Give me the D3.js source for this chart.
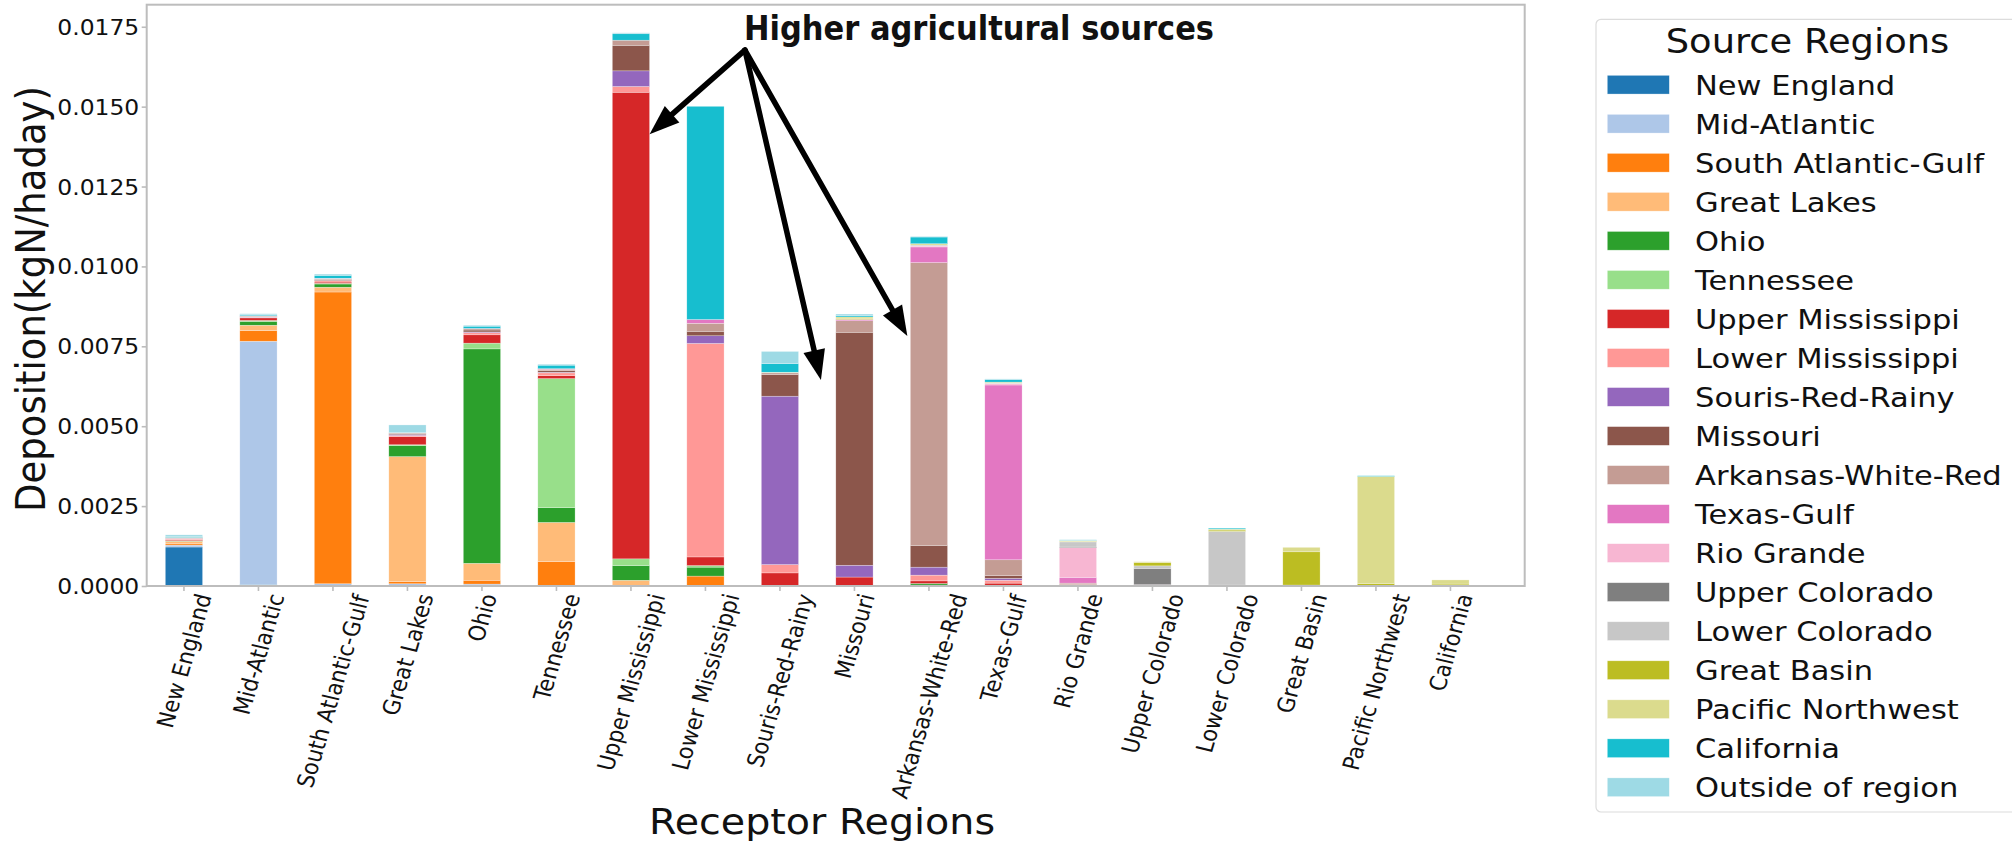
<!DOCTYPE html>
<html>
<head>
<meta charset="utf-8">
<script src="https://cdn.jsdelivr.net/npm/d3@7"></script>
<style>
  html, body { margin: 0; padding: 0; background: #fff; }
  svg { display: block; }
  text { font-family: "DejaVu Sans", sans-serif; fill: #111; }
</style>
</head>
<body>
<svg id="chart" width="2012" height="846"></svg>
<script>
// Receptor regions (x axis categories)
const receptors = [
  "New England", "Mid-Atlantic", "South Atlantic-Gulf", "Great Lakes", "Ohio",
  "Tennessee", "Upper Mississippi", "Lower Mississippi", "Souris-Red-Rainy",
  "Missouri", "Arkansas-White-Red", "Texas-Gulf", "Rio Grande", "Upper Colorado",
  "Lower Colorado", "Great Basin", "Pacific Northwest", "California"
];

// Source regions (stack order, bottom to top)
const sources = [
  "New England", "Mid-Atlantic", "South Atlantic-Gulf", "Great Lakes", "Ohio",
  "Tennessee", "Upper Mississippi", "Lower Mississippi", "Souris-Red-Rainy",
  "Missouri", "Arkansas-White-Red", "Texas-Gulf", "Rio Grande", "Upper Colorado",
  "Lower Colorado", "Great Basin", "Pacific Northwest", "California", "Outside of region"
];

const sourceColors = [
  "#1f77b4", "#aec7e8", "#ff7f0e", "#ffbb78", "#2ca02c", "#98df8a", "#d62728",
  "#ff9896", "#9467bd", "#8c564b", "#c49c94", "#e377c2", "#f7b6d2", "#7f7f7f",
  "#c7c7c7", "#bcbd22", "#dbdb8d", "#17becf", "#9edae5"
];

// Deposition (kgN/ha/day) contributed by each source region, one value per receptor
const srcNewEngland     = [0.00122,0.00005,0,0,0,0,0,0,0,0,0,0,0,0,0,0,0,0];
const srcMidAtlantic    = [0.00006,0.00761,0.00007,0.00007,0.00006,0,0,0,0,0,0,0,0,0,0,0,0,0];
const srcSouthAtlantic  = [0.00004,0.00033,0.00913,0.00007,0.00012,0.00076,0,0.00031,0,0,0.00003,0.00002,0,0,0,0,0,0];
const srcGreatLakes     = [0.00008,0.00017,0.00015,0.00391,0.00053,0.00123,0.00018,0,0,0,0,0,0,0,0,0,0,0];
const srcOhio           = [0.00001,0.00012,0.00010,0.00034,0.00671,0.00046,0.00046,0.00028,0,0.00002,0.00005,0,0,0,0,0,0,0];
const srcTennessee      = [0.00001,0.00003,0.00002,0.00003,0.00018,0.00404,0.00021,0.00005,0,0,0,0,0,0,0,0,0,0];
const srcUpperMiss      = [0.00003,0.00008,0.00004,0.00025,0.00026,0.00009,0.01460,0.00027,0.00041,0.00026,0.00008,0.00007,0,0,0,0,0,0];
const srcLowerMiss      = [0.00002,0.00002,0.00004,0.00004,0.00007,0.00009,0.00018,0.00668,0.00026,0,0.00018,0.00009,0,0,0,0,0,0];
const srcSourisRedRainy = [0.00001,0.00001,0.00001,0.00003,0.00002,0.00002,0.00049,0.00024,0.00527,0.00037,0.00025,0.00006,0,0,0,0,0,0];
const srcMissouri       = [0.00001,0.00002,0.00003,0.00003,0.00006,0.00005,0.00080,0.00014,0.00068,0.00729,0.00068,0.00009,0.00004,0,0,0,0.00002,0];
const srcArkansas       = [0.00001,0.00001,0.00002,0.00002,0.00004,0.00004,0.00016,0.00025,0.00005,0.00036,0.00885,0.00049,0.00005,0,0,0,0,0];
const srcTexasGulf      = [0.00001,0.00001,0.00001,0,0.00001,0.00002,0,0.00012,0,0.00004,0.00049,0.00547,0.00018,0.00002,0,0,0,0];
const srcRioGrande      = [0,0,0.00001,0,0,0,0,0,0,0,0.00003,0.00004,0.00093,0.00002,0.00003,0,0,0];
const srcUpperColorado  = [0,0,0,0,0,0,0,0,0,0,0,0,0.00002,0.00051,0,0.00003,0,0];
const srcLowerColorado  = [0,0,0,0,0,0,0,0,0,0,0.00003,0.00002,0.00016,0.00008,0.00168,0,0,0];
const srcGreatBasin     = [0,0,0,0,0,0,0,0,0,0.00002,0,0,0.00001,0.00010,0.00004,0.00104,0.00006,0.00006];
const srcPacificNW      = [0.00001,0,0,0,0,0,0,0,0.00002,0.00006,0.00004,0.00003,0.00003,0.00003,0.00003,0.00014,0.00335,0.00013];
const srcCalifornia     = [0.00002,0.00003,0.00009,0.00001,0.00007,0.00011,0.00020,0.00667,0.00027,0.00004,0.00021,0.00008,0.00001,0,0.00003,0,0.00002,0];
const srcOutside        = [0.00006,0.00003,0.00004,0.00024,0.00003,0.00003,0.00003,0,0.00038,0.00005,0.00002,0.00002,0.00002,0,0,0,0,0];

const sourceValues = [
  srcNewEngland, srcMidAtlantic, srcSouthAtlantic, srcGreatLakes, srcOhio,
  srcTennessee, srcUpperMiss, srcLowerMiss, srcSourisRedRainy, srcMissouri,
  srcArkansas, srcTexasGulf, srcRioGrande, srcUpperColorado, srcLowerColorado,
  srcGreatBasin, srcPacificNW, srcCalifornia, srcOutside
];

const yTicks = [0, 0.0025, 0.005, 0.0075, 0.01, 0.0125, 0.015, 0.0175];
const yMax = 0.01819;

// Callout pointing at the receptors with large agricultural contributions
const calloutText = "Higher agricultural sources";
const calloutOrigin = { i: 7.53, v: 0.01677 };
const calloutTargets = [
  { i: 6.25, v: 0.01414 },
  { i: 8.55, v: 0.00645 },
  { i: 9.71, v: 0.00782 }
];

// ---------------------------------------------------------------------------
const svg = d3.select("#chart");
const SX = 1.115;                       // horizontal text stretch used throughout
const plot = { left: 146.7, right: 1524.7, top: 4.7, bottom: 586 };
const step = 74.5;

const x = d3.scaleBand()
  .domain(receptors)
  .range([plot.left, plot.left + receptors.length * step])
  .paddingInner(0.5)
  .paddingOuter(0.25);

const y = d3.scaleLinear().domain([0, yMax]).range([plot.bottom, plot.top]);

// position along the category axis for fractional indices
const xIdx = i => x(receptors[0]) + x.bandwidth() / 2 + i * x.step();

const rows = receptors.map((r, i) => {
  const o = { receptor: r };
  sources.forEach((s, k) => { o[s] = sourceValues[k][i]; });
  return o;
});

const stacked = d3.stack().keys(sources)(rows);
const color = d3.scaleOrdinal().domain(sources).range(sourceColors);

svg.append("rect").attr("width", 2012).attr("height", 846).attr("fill", "#fff");

// stacked bars
svg.append("g").selectAll("g")
  .data(stacked)
  .join("g")
  .attr("fill", d => color(d.key))
  .selectAll("rect")
  .data(d => d)
  .join("rect")
  .attr("x", d => x(d.data.receptor))
  .attr("width", x.bandwidth())
  .attr("y", d => y(d[1]))
  .attr("height", d => Math.max(0, y(d[0]) - y(d[1])))
  .attr("stroke", "#ffffff")
  .attr("stroke-opacity", 0.55)
  .attr("stroke-width", 0.5);

// y axis
const yAxis = svg.append("g")
  .attr("transform", `translate(${plot.left},0)`)
  .call(d3.axisLeft(y).tickValues(yTicks).tickFormat(d3.format(".4f")).tickSize(5).tickPadding(2));
yAxis.select(".domain").remove();
yAxis.selectAll(".tick line").attr("stroke", "#bdbdbd").attr("stroke-width", 1.6);
yAxis.selectAll(".tick text")
  .attr("font-size", 21)
  .attr("font-family", "DejaVu Sans")
  .attr("fill", "#111")
  .attr("x", -7.5 / SX)
  .attr("dy", "0.36em")
  .attr("transform", `scale(${SX},1)`);

// x axis
const xAxis = svg.append("g")
  .attr("transform", `translate(0,${plot.bottom})`)
  .call(d3.axisBottom(x).tickSize(5).tickFormat(""));
xAxis.select(".domain").remove();
xAxis.selectAll(".tick line").attr("stroke", "#bdbdbd").attr("stroke-width", 1.6);

const xLabels = svg.append("g").selectAll("text")
  .data(receptors)
  .join("text")
  .attr("font-size", 21)
  .attr("text-anchor", "end")
  .text(d => d);

xLabels.each(function (d) {
  const cx = x(d) + x.bandwidth() / 2;
  const t = d3.select(this);
  const base = (tx, ty) => `translate(${tx},${ty}) scale(${SX},1) rotate(-75)`;
  t.attr("transform", base(cx, plot.bottom + 10));
  const b = this.getBoundingClientRect();
  const dx = cx - (b.left + b.right) / 2;
  const dy = (plot.bottom + 5) - b.top;
  t.attr("transform", base(cx + dx, plot.bottom + 10 + dy));
});

// frame
svg.append("rect")
  .attr("x", plot.left).attr("y", plot.top)
  .attr("width", plot.right - plot.left).attr("height", plot.bottom - plot.top)
  .attr("fill", "none").attr("stroke", "#bdbdbd").attr("stroke-width", 2);

// axis titles
svg.append("text")
  .attr("transform", `translate(45,299) scale(${SX},1) rotate(-90)`)
  .attr("text-anchor", "middle")
  .attr("font-size", 37)
  .text("Deposition(kgN/haday)");

svg.append("text")
  .attr("transform", `translate(822,834) scale(1.1,1)`)
  .attr("text-anchor", "middle")
  .attr("font-size", 36)
  .text("Receptor Regions");

// legend
const legend = svg.append("g");
legend.append("rect")
  .attr("x", 1596).attr("y", 19.3).attr("width", 440).attr("height", 792.7)
  .attr("rx", 5).attr("fill", "#fff").attr("stroke", "#dcdcdc").attr("stroke-width", 1.2);
legend.append("text")
  .attr("transform", `translate(1807.5,53.3) scale(1.1,1)`)
  .attr("text-anchor", "middle")
  .attr("font-size", 33.5)
  .text("Source Regions");

const items = legend.selectAll("g.item")
  .data(sources)
  .join("g")
  .attr("class", "item")
  .attr("transform", (d, i) => `translate(0,${84.7 + 39.03 * i})`);
items.append("rect")
  .attr("x", 1607.3).attr("y", -9.35).attr("width", 62).attr("height", 18.7)
  .attr("fill", d => color(d))
  .attr("stroke", "#ffffff").attr("stroke-opacity", 0.5).attr("stroke-width", 0.6);
items.append("text")
  .attr("transform", `translate(1695,10) scale(${SX},1)`)
  .attr("font-size", 27.4)
  .text(d => d);

// callout with arrows
const callout = svg.append("g");
callout.append("text")
  .attr("x", 744).attr("y", 40)
  .attr("font-family", "Lato, 'Open Sans', sans-serif")
  .attr("font-weight", 700)
  .attr("font-size", 34)
  .attr("textLength", 470)
  .attr("lengthAdjust", "spacingAndGlyphs")
  .attr("fill", "#000")
  .text(calloutText);

const ox = xIdx(calloutOrigin.i), oy = y(calloutOrigin.v);
calloutTargets.forEach(tg => {
  const tx = xIdx(tg.i), ty = y(tg.v);
  const dx = tx - ox, dy = ty - oy;
  const len = Math.hypot(dx, dy);
  const ux = dx / len, uy = dy / len;
  const headLen = 30, headHalf = 11;
  const bx = tx - ux * headLen, by = ty - uy * headLen;
  callout.append("line")
    .attr("x1", ox).attr("y1", oy)
    .attr("x2", bx + ux * 2).attr("y2", by + uy * 2)
    .attr("stroke", "#000").attr("stroke-width", 5.5).attr("stroke-linecap", "round");
  callout.append("path")
    .attr("d", `M${tx},${ty}L${bx - uy * headHalf},${by + ux * headHalf}L${bx + uy * headHalf},${by - ux * headHalf}Z`)
    .attr("fill", "#000");
});
</script>
</body>
</html>
